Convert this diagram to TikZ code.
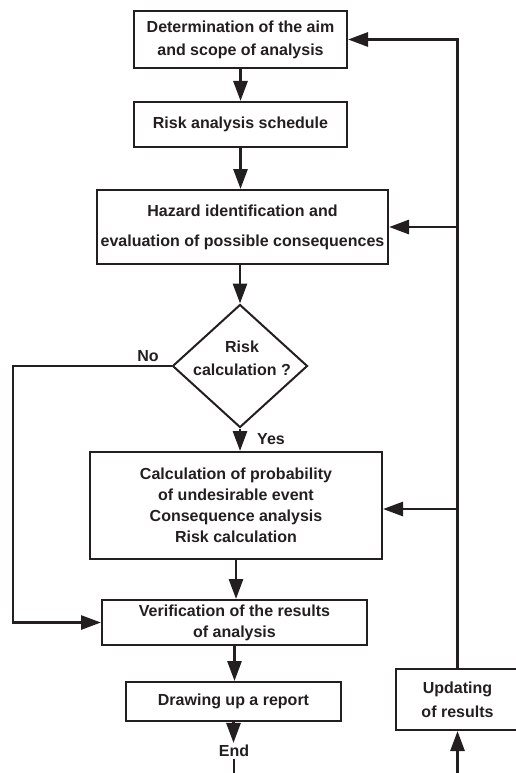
\documentclass[tikz,border=0pt]{standalone}
\usepackage{fontspec}
\setmainfont{Liberation Sans}
\usetikzlibrary{arrows.meta,shapes.geometric}
\definecolor{ink}{HTML}{231F20}
\begin{document}
\begin{tikzpicture}[x=1pt,y=-1pt,
 box/.style={draw=ink,line width=2pt,inner sep=0pt,align=center,text=ink,font=\bfseries\fontsize{16}{23}\selectfont},
 conn/.style={draw=ink,line width=2.8pt},
 arr/.style={conn,-{Triangle[length=20pt,width=14pt]}},
 lbl/.style={font=\bfseries\fontsize{16}{23}\selectfont,text=ink,inner sep=0pt,align=center}]
\useasboundingbox (0,0) rectangle (516,773);
\node[box,minimum width=213pt,minimum height=57pt] (aim) at (240.5,39.5) {Determination of the aim\\and scope of analysis};
\node[box,minimum width=213pt,minimum height=45pt] (sched) at (240.5,124.5) {Risk analysis schedule};
\node[box,minimum width=291pt,minimum height=74pt,font=\bfseries\fontsize{16}{30}\selectfont] (haz) at (242.5,227) {Hazard identification and\\evaluation of possible consequences};
\node[draw=ink,line width=2pt,diamond,minimum width=135pt,minimum height=123pt,inner sep=0pt] (dec) at (240,366) {};
\node[lbl] (dectext) at (242,358.5) {Risk\\calculation ?};
\node[box,minimum width=292pt,minimum height=107pt,font=\bfseries\fontsize{16}{21}\selectfont] (calc) at (236,505.5) {Calculation of probability\\of undesirable event\\Consequence analysis\\Risk calculation};
\node[box,minimum width=265pt,minimum height=45pt,font=\bfseries\fontsize{16}{21}\selectfont] (verif) at (234.5,622.5) {Verification of the results\\of analysis};
\node[box,minimum width=215pt,minimum height=39pt] (rep) at (233.5,701.5) {Drawing up a report};
\node[box,minimum width=123pt,minimum height=61pt,font=\bfseries\fontsize{16}{24}\selectfont] (upd) at (457.5,699.5) {Updating\\of results};
\node[lbl,inner sep=2pt] (fin) at (234,751) {End};
\node[lbl] (no) at (148,356) {No};
\node[lbl] (yes) at (271,439) {Yes};
\coordinate (ebot) at (234,776);
\coordinate (ubot) at (457.5,776);
\coordinate (nox) at (13,0);
\draw[arr] (aim.south) -- (sched.north);
\draw[arr] (sched.south) -- (sched.south |- haz.north);
\draw[arr] (haz.south -| dec.north) -- (dec.north);
\draw[arr] (dec.south) -- (dec.south |- calc.north);
\draw[arr] (calc.south) -- (calc.south |- verif.north);
\draw[arr] (verif.south) -- (verif.south |- rep.north);
\draw[arr] (rep.south) -- (rep.south |- fin.north);
\draw[conn] (fin.south) -- (ebot);
\draw[arr] (ubot) -- (upd.south);
\draw[arr] (upd.north) -- (upd.north |- aim.east) -- (aim.east);
\draw[arr] (upd.north |- haz.east) -- (haz.east);
\draw[arr] ([yshift=-3.5pt]upd.north |- calc.east) -- ([yshift=-3.5pt]calc.east);
\draw[arr] (dec.west) -- (dec.west -| nox) -- (verif.west -| nox) -- (verif.west);
\end{tikzpicture}
\end{document}
